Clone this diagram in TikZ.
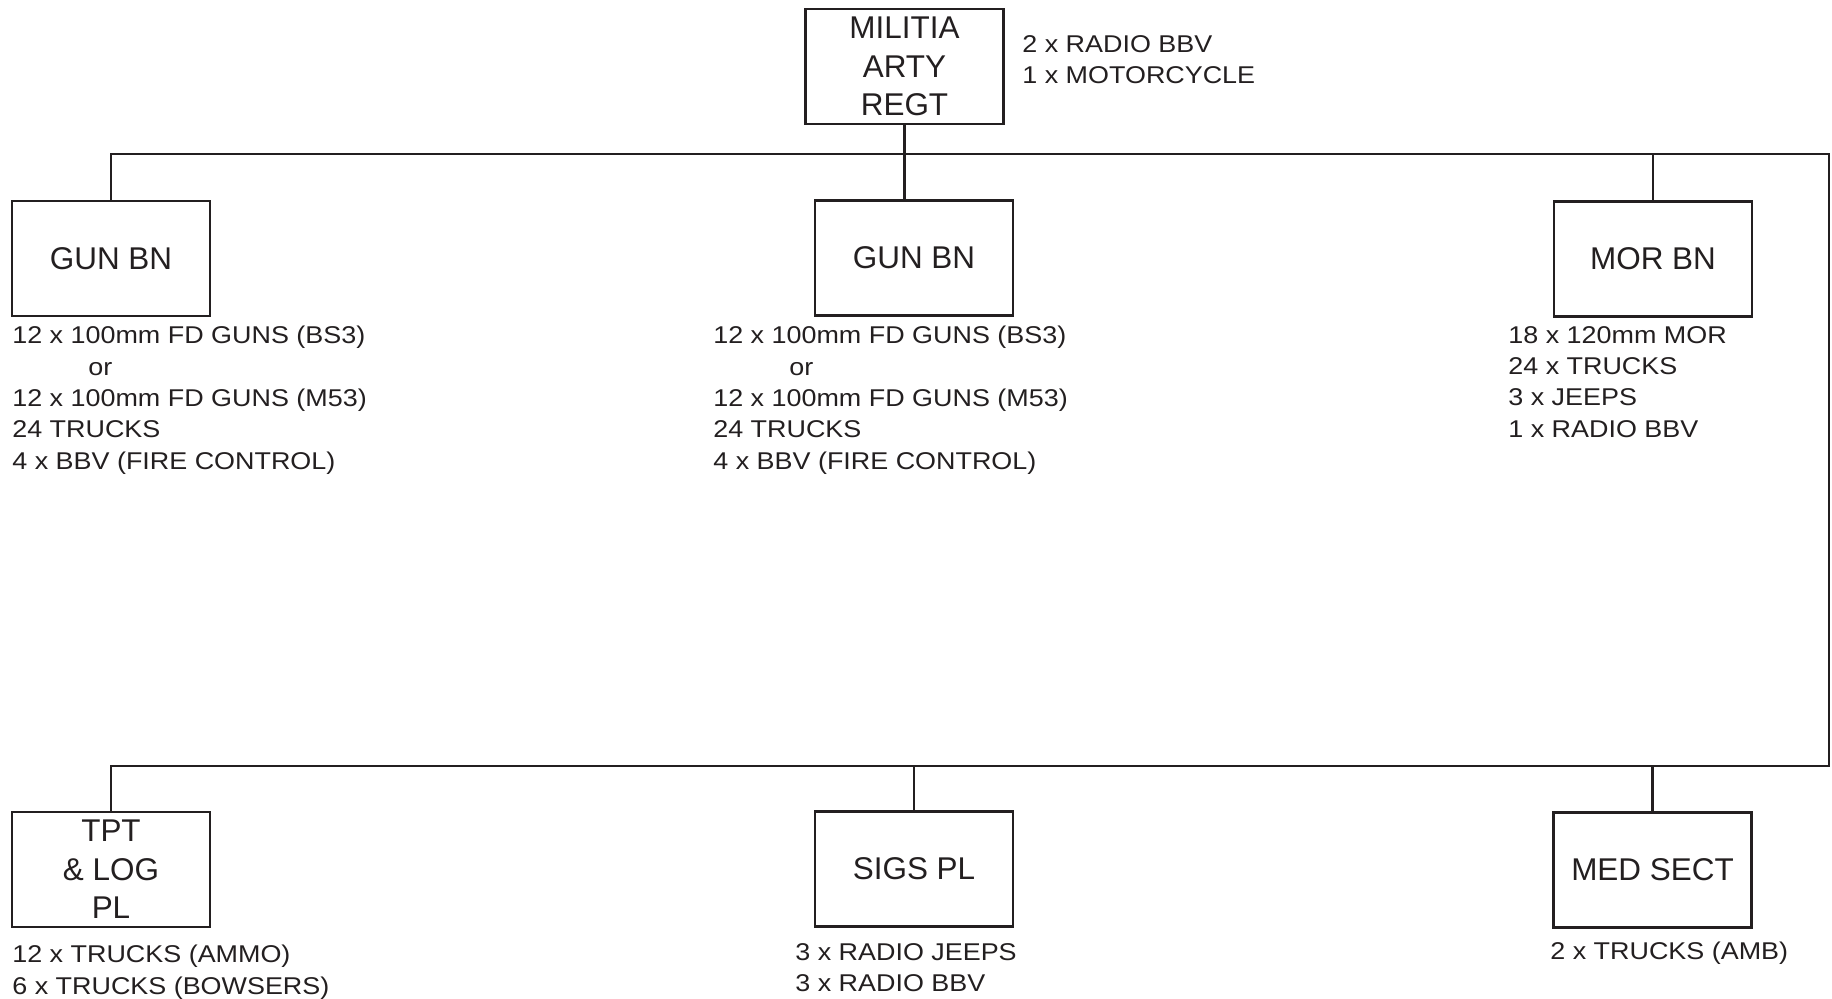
\documentclass[tikz,border=0pt]{standalone}
\usepackage{fontspec}
\setmainfont{Liberation Sans}
\newfontfamily\kitfont{Liberation Sans}[FakeStretch=1.11]
\definecolor{inkblack}{RGB}{35,31,32}

\begin{document}
\begin{tikzpicture}[x=0.02cm, y=-0.02cm,
    unitbox/.style={draw=inkblack, line width=1.5pt, minimum width=3.96cm, minimum height=2.3cm,
      align=center, inner sep=2pt, text=inkblack, font=\fontsize{17.9pt}{22pt}\selectfont},
    kitlist/.style={anchor=north west, inner sep=0pt, align=left, text=inkblack,
      font=\kitfont\fontsize{13.8pt}{17.8pt}\selectfont},
    link/.style={draw=inkblack, line width=1.6pt}]
    \useasboundingbox (0,0) rectangle (1832,999);

    % Regiment HQ
    \node[unitbox] (regt) at (904.5,66.5) {MILITIA\\ARTY\\REGT};
    \node[kitlist] (regtkit) at (1022,35) {2 x RADIO BBV\\1 x MOTORCYCLE};

    % Upper row: battalions
    \node[unitbox] (gunA) at (111,258.5) {GUN BN};
    \node[unitbox] (gunB) at (914,258) {GUN BN};
    \node[unitbox] (mor) at (1653,259) {MOR BN};
    \node[kitlist] (gunAkit) at (12,326) {12 x 100mm FD GUNS (BS3)\\\hspace*{1.52cm}or\\12 x 100mm FD GUNS (M53)\\24 TRUCKS\\4 x BBV (FIRE CONTROL)};
    \node[kitlist] (gunBkit) at (713,326) {12 x 100mm FD GUNS (BS3)\\\hspace*{1.52cm}or\\12 x 100mm FD GUNS (M53)\\24 TRUCKS\\4 x BBV (FIRE CONTROL)};
    \node[kitlist] (morkit) at (1508,326) {18 x 120mm MOR\\24 x TRUCKS\\3 x JEEPS\\1 x RADIO BBV};

    % Lower row: support elements
    \node[unitbox] (tpt) at (111,869.5) {TPT\\\& LOG\\PL};
    \node[unitbox] (sigs) at (914,869) {SIGS PL};
    \node[unitbox] (med) at (1652.5,870) {MED SECT};
    \node[kitlist] (tptkit) at (12,945) {12 x TRUCKS (AMMO)\\6 x TRUCKS (BOWSERS)};
    \node[kitlist] (sigskit) at (795,943) {3 x RADIO JEEPS\\3 x RADIO BBV};
    \node[kitlist] (medkit) at (1550,942) {2 x TRUCKS (AMB)};

    % Bus lines
    \coordinate (topbus) at (1829,154);
    \coordinate (lowbus) at (1829,766);
    \draw[link] (gunA.north) -- (gunA.north |- topbus) -- (topbus) -- (lowbus) -- (tpt.north |- lowbus) -- (tpt.north);
    \draw[link] (regt.south) -- (regt.south |- gunB.north);
    \draw[link] (mor.north) -- (mor.north |- topbus);
    \draw[link] (sigs.north) -- (sigs.north |- lowbus);
    \draw[link] (med.north) -- (med.north |- lowbus);
\end{tikzpicture}
\end{document}
